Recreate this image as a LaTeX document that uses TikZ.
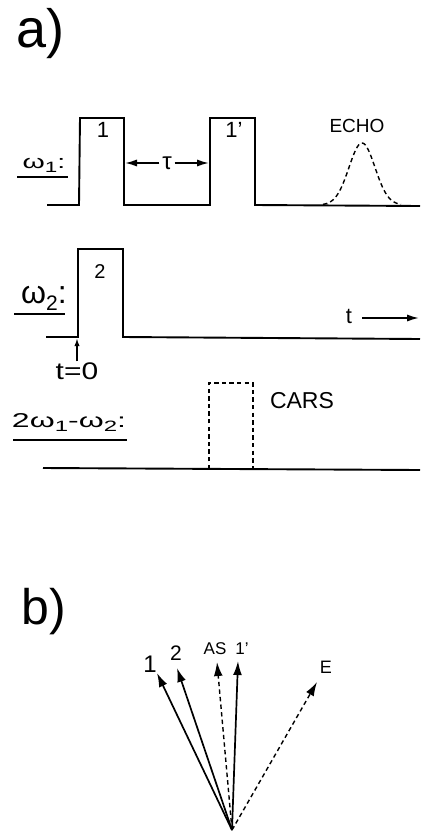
\documentclass[tikz,border=0pt]{standalone}
\usepackage{fontspec}
\setmainfont{Liberation Sans}
\usetikzlibrary{arrows.meta}
\newcommand{\fs}[1]{\fontsize{#1}{#1}\selectfont}
\newcommand{\lsub}[2]{\raisebox{-0.45ex}{\fs{#1}#2}}
\begin{document}
\begin{tikzpicture}[x=0.5pt,y=-0.5pt,line width=0.85pt,
  sig/.style={line width=0.95pt,line join=miter},
  dsh/.style={dash pattern=on 2.2pt off 1.6pt,line width=0.7pt},
  arr/.style={-{Latex[length=6pt,width=3.6pt]}},
  varr/.style={-{Latex[length=7pt,width=4.4pt]}},
  txt/.style={inner sep=0pt,anchor=base}]
\path[use as bounding box] (0,0) rectangle (420,831);

% ---------- a) ----------
\node[txt,anchor=base west] (la) at (16,47) {\fs{27}a)};

% omega_1 line
\draw[sig] (47,205) -- (79,205) -- (80,118) -- (124,118) -- (124,205) -- (210,205)
  -- (210,118) -- (255,118) -- (255,205) -- (420,206);
\node[txt] (n1) at (103,137) {\fs{11}1};
\node[txt] (n1p) at (234,137) {\fs{11}1’};
\coordinate (p1r) at (125,163);
\coordinate (p1pl) at (209,163);
\node[inner sep=1pt] (tau) at (167,163) {\fs{12}τ};
\draw[arr] (tau) -- (p1r);
\draw[arr] (tau) -- (p1pl);
\draw[dsh] plot[domain=323:401,samples=60]
  (\x,{205-62*exp(-((\x-362)*(\x-362))/338)});
\node[txt] (echo) at (357,132) {\fs{9.5}ECHO};
\node[txt] (w1) at (44,168) {\fs{9.5}\scalebox{1.5}[1]{ω\lsub{7.5}{1}:}};
\draw (17,177) -- (68,177);

% omega_2 line
\draw[sig] (46,337) -- (78,337) -- (78,249) -- (123,249) -- (123,337) -- (420,339);
\node[txt] (n2) at (100,278) {\fs{10}2};
\node[txt] (w2) at (44,303) {\fs{16}ω\lsub{10.5}{2}:};
\draw (14,314) -- (65,314);
\node[txt] (t) at (349,323) {\fs{11}t};
\coordinate (tstart) at (362,318);
\coordinate (tend) at (419,318);
\draw[arr] (tstart) -- (tend);
\node[txt] (t0) at (77,379) {\fs{12}\scalebox{1.25}[1]{t=0}};
\coordinate (t0tip) at (77,338);
\draw[-{Latex[length=4pt,width=2.6pt]}] (t0.north) -- (t0tip);

% 2w1-w2 line
\draw[dsh] (209,469) -- (209,383) -- (253,383) -- (253,469);
\node[txt] (cars) at (302,408) {\fs{11.5}CARS};
\draw[sig] (43,468) -- (420,470);
\node[txt] (w12) at (69,427) {\fs{10}\scalebox{1.6}[1]{2ω\lsub{7.5}{1}-ω\lsub{7.5}{2}:}};
\draw (13,440) -- (127,440);

% ---------- b) ----------
\node[txt,anchor=base west] (lb) at (21,624) {\fs{25}b)};
\coordinate (o) at (232,830);
\coordinate (v1) at (157,673);
\coordinate (v2) at (177,668);
\coordinate (vas) at (217,662);
\coordinate (v1p) at (238,661);
\coordinate (ve) at (317,682);
\draw[varr] (o) -- (v1);
\draw[varr] (o) -- (v2);
\draw[varr,dsh] (o) -- (vas);
\draw[varr] (o) -- (v1p);
\draw[varr,dsh] (o) -- (ve);
\node[txt] (l1) at (150,672) {\fs{12}1};
\node[txt] (l2) at (176,660) {\fs{10.5}2};
\node[txt] (las) at (215,654) {\fs{8.5}AS};
\node[txt] (l1p) at (242,654) {\fs{8.5}1’};
\node[txt] (le) at (326,673) {\fs{9}E};
\end{tikzpicture}
\end{document}
